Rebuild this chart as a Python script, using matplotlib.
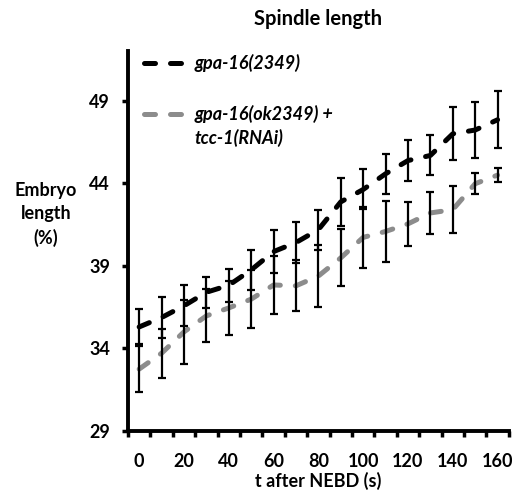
import numpy as np
import matplotlib
matplotlib.use("Agg")
import matplotlib.pyplot as plt

# time after NEBD (s)
t = np.arange(0, 161, 10)

# gpa-16(2349)
wt_mean = [35.30, 35.87, 36.58, 37.40, 37.82, 38.75, 39.86, 40.41, 41.19,
           42.87, 43.62, 44.57, 45.37, 45.68, 46.99, 47.22, 47.84]
wt_err = [1.06, 1.23, 1.24, 0.93, 1.01, 1.23, 1.29, 1.24, 1.21,
          1.45, 1.21, 1.21, 1.25, 1.21, 1.61, 1.68, 1.72]

# gpa-16(ok2349) + tcc-1(RNAi)
rnai_mean = [32.75, 33.71, 35.00, 35.97, 36.45, 36.98, 37.84, 37.79, 38.38,
             39.48, 40.72, 41.08, 41.54, 42.20, 42.40, 43.97, 44.49]
rnai_err = [1.39, 1.49, 1.95, 1.60, 1.61, 1.76, 1.73, 1.54, 1.86,
            1.72, 1.87, 1.83, 1.32, 1.26, 1.42, 0.64, 0.42]

labels = ["gpa-16(2349)", "gpa-16(ok2349) +"]
label2_cont = "tcc-1(RNAi)"
yticks = [29, 34, 39, 44, 49]

plt.rcParams['font.family'] = ['Lato', 'DejaVu Sans']

fig = plt.figure(figsize=(5.16, 4.98), dpi=100)
ax = fig.add_axes([0.248, 0.1345, 0.738, 0.763])

#lines
l1, = ax.plot(t, wt_mean, color='black', lw=3.6, dashes=(2.2, 3),
              dash_capstyle='round', label=labels[0], zorder=2)
l2, = ax.plot(t, rnai_mean, color='#8c8c8c', lw=3.6, dashes=(2.2, 3),
              dash_capstyle='round', label=labels[1], zorder=2)

# error bars
for m, e in [(wt_mean, wt_err), (rnai_mean, rnai_err)]:
    ax.errorbar(t, m, yerr=e, fmt='none', ecolor='black', elinewidth=1.6,
                capsize=3.2, capthick=1.6, zorder=3)

ax.set_xlim(-5, 165)
ax.set_ylim(29, 52)

ax.set_yticks(yticks)
ax.set_yticklabels([str(v) for v in yticks], fontsize=13, fontweight='bold')
ax.set_xticks(np.arange(-5, 166, 10))
ax.set_xticklabels([])
ax.set_xticks(np.arange(0, 161, 20), minor=True)
ax.set_xticklabels([str(v) for v in range(0, 161, 20)], minor=True,
                   fontsize=13, fontweight='bold')
ax.tick_params(axis='x', which='major', direction='out', length=4, width=2.5)
ax.tick_params(axis='x', which='minor', length=0, pad=16)
ax.tick_params(axis='y', direction='out', length=4, width=2.5, pad=9)

for s in ['top', 'right']:
    ax.spines[s].set_visible(False)
for s in ['left', 'bottom']:
    ax.spines[s].set_linewidth(2.8)

ax.set_title("Spindle length", fontsize=14.5, fontweight='bold', pad=19)
ax.set_xlabel("t after NEBD (s)", fontsize=13, fontweight='bold', labelpad=1)
ax.set_ylabel("Embryo\nlength\n(%)", fontsize=13, fontweight='bold',
              rotation=0, ha='center', va='center', labelpad=0, linespacing=1.45)
ax.yaxis.set_label_coords(-0.215, 0.57)

leg_font = {'size': 13, 'weight': 'bold', 'style': 'italic'}
leg = ax.legend(handles=[l1, l2], loc='upper left', bbox_to_anchor=(0.0, 1.035),
                frameon=False, handlelength=2.3, handletextpad=0.5,
                labelspacing=1.85, prop=leg_font)
# second line of the 2nd label, under its first line (drawn after the legend)
ax.annotate(label2_cont, xy=(0, 0), xycoords=leg.get_texts()[1],
            xytext=(0, -4), textcoords='offset points', ha='left', va='top',
            fontsize=13, fontweight='bold', fontstyle='italic', zorder=6)

fig.savefig("out.png", dpi=100)
